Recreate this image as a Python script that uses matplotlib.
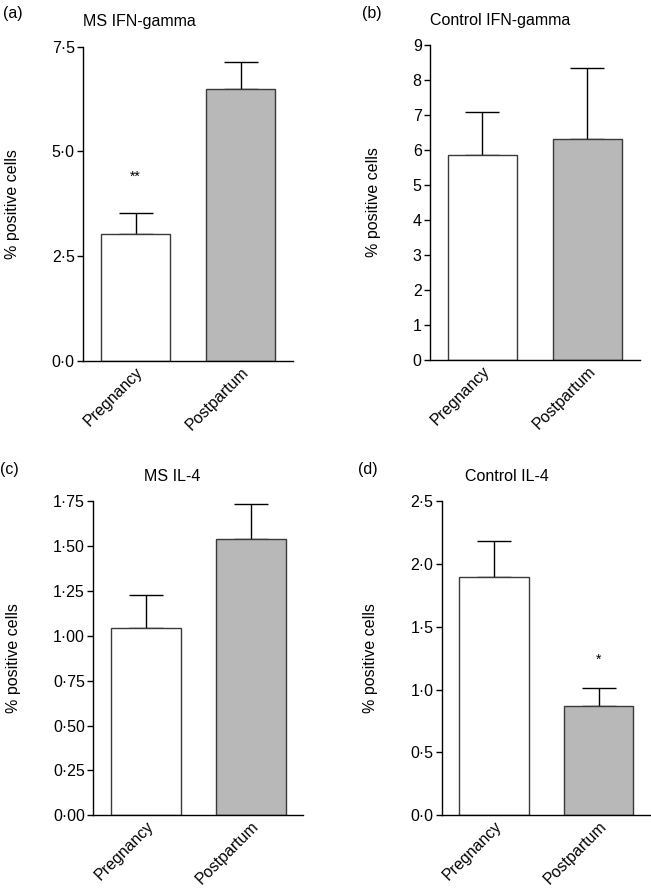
import matplotlib
matplotlib.use("Agg")
import matplotlib.pyplot as plt

plt.rcParams["font.family"] = ["Liberation Sans", "DejaVu Sans"]

groups = ["Pregnancy", "Postpartum"]
colors = ["white", "#b8b8b8"]

# panel data: mean values and upper error (top of whisker)
a_means = [3.02, 6.48]
a_tops = [3.54, 7.14]
a_ticks = [0, 2.5, 5.0, 7.5]
a_labels = ["0·0", "2·5", "5·0", "7·5"]

b_means = [5.86, 6.30]
b_tops = [7.09, 8.33]
b_ticks = [0, 1, 2, 3, 4, 5, 6, 7, 8, 9]
b_labels = ["0", "1", "2", "3", "4", "5", "6", "7", "8", "9"]

c_means = [1.045, 1.537]
c_tops = [1.227, 1.733]
c_ticks = [0, 0.25, 0.5, 0.75, 1.0, 1.25, 1.5, 1.75]
c_labels = ["0·00", "0·25", "0·50", "0·75", "1·00", "1·25", "1·50", "1·75"]

d_means = [1.896, 0.872]
d_tops = [2.185, 1.010]
d_ticks = [0, 0.5, 1.0, 1.5, 2.0, 2.5]
d_labels = ["0·0", "0·5", "1·0", "1·5", "2·0", "2·5"]

panels = [
    # label, title, means, tops, ticks, labels, ylim, axes rect, title x, star
    ("(a)", "MS IFN-gamma", a_means, a_tops, a_ticks, a_labels, 7.5,
     [0.1275, 0.5947, 0.3226, 0.3528], 0.0, (0, 4.39, "**")),
    ("(b)", "Control IFN-gamma", b_means, b_tops, b_ticks, b_labels, 9,
     [0.6605, 0.5958, 0.3226, 0.3536], 0.0, None),
    ("(c)", "MS IL-4", c_means, c_tops, c_ticks, c_labels, 1.75,
     [0.1433, 0.0839, 0.3226, 0.3531], 0.24, None),
    ("(d)", "Control IL-4", d_means, d_tops, d_ticks, d_labels, 2.5,
     [0.6785, 0.0839, 0.3215, 0.3531], 0.11, (1, 1.24, "*")),
]
panel_pos = [(0.004, 0.993), (0.556, 0.993), (0.0, 0.481), (0.550, 0.481)]

fs = 11.5

fig = plt.figure(figsize=(6.51, 8.9), dpi=100)

for (lab, title, means, tops, ticks, tlabels, ymax, rect, tx, star), pos in zip(panels, panel_pos):
    ax = fig.add_axes(rect)
    x = [0, 1]
    ax.bar(x, means, width=0.665, color=colors, edgecolor="#3a3a3a",
           linewidth=1.0, zorder=2)
    errs = [t - m for t, m in zip(tops, means)]
    ax.errorbar(x, means, yerr=[[0, 0], errs], fmt="none", ecolor="black",
                elinewidth=1.0, capsize=12, capthick=1.0, zorder=1)
    ax.set_xlim(-0.5, 1.5)
    ax.set_ylim(0, ymax)
    ax.set_yticks(ticks)
    ax.set_yticklabels(tlabels, fontsize=fs)
    ax.set_xticks(x)
    ax.set_xticklabels(groups, rotation=45, ha="right", va="top",
                       rotation_mode="anchor", fontsize=fs)
    ax.tick_params(axis="x", direction="in", length=4, width=1, pad=2.5)
    ax.tick_params(axis="y", direction="out", length=4, width=1, pad=2)
    for s in ["top", "right"]:
        ax.spines[s].set_visible(False)
    for s in ["left", "bottom"]:
        ax.spines[s].set_linewidth(1.0)
    ax.set_ylabel("% positive cells", fontsize=fs, labelpad=23)
    ax.text(tx, 1.055, title, transform=ax.transAxes, fontsize=fs,
            ha="left", va="bottom")
    if star is not None:
        ax.text(star[0], star[1], star[2], ha="center", va="center", fontsize=10)
    fig.text(pos[0], pos[1], lab, fontsize=fs, ha="left", va="top")

fig.savefig("out.png", dpi=100)
